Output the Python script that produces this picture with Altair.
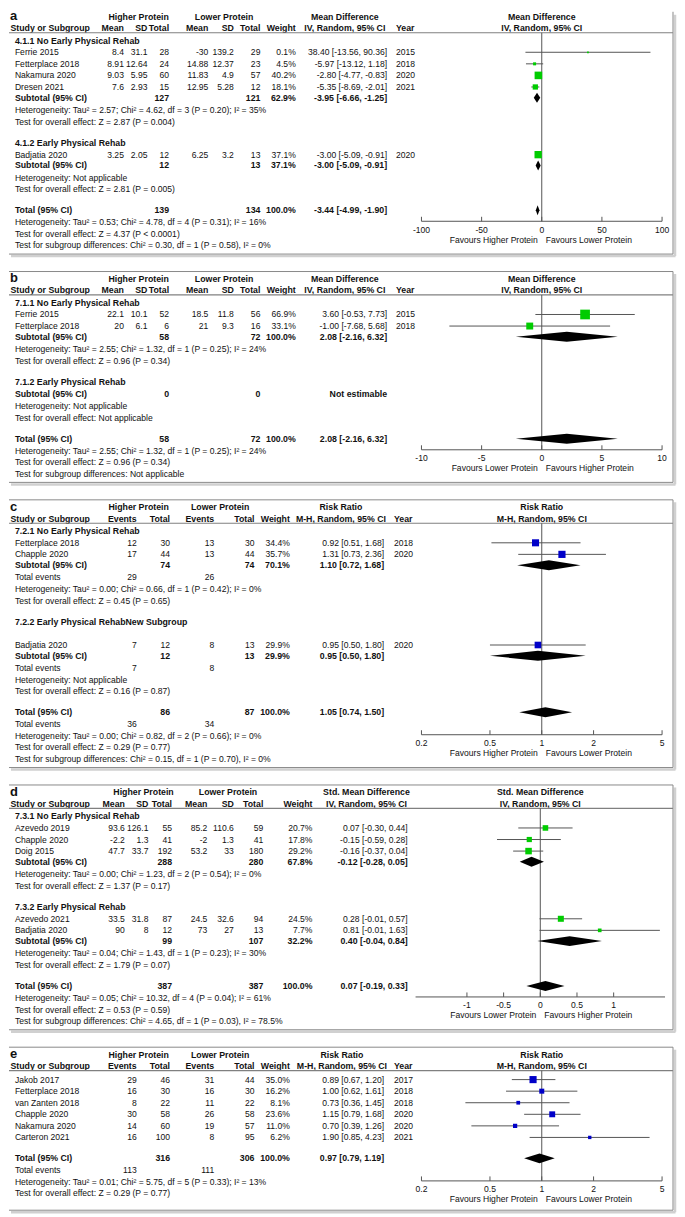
import altair as alt
import pandas as pd

FONT = "Liberation Sans"
INK = "#111111"
W = 669
FS, FSB, FSL = 8.6, 8.8, 13


def X(r):
    # reference layout x (px) -> chart x (px)
    return round((r - 3.0) * 0.985, 2)


# ---------------- panel a ----------------
A_groups = ["4.1.1 No Early Physical Rehab", "4.1.2 Early Physical Rehab"]
A_studies = ["Ferrie 2015", "Fetterplace 2018", "Nakamura 2020", "Dresen 2021", "Badjatia 2020"]
A_group_of = [0, 0, 0, 0, 1]
A_hp_mean = ["8.4", "8.91", "9.03", "7.6", "3.25"]
A_hp_sd = ["31.1", "12.64", "5.95", "2.93", "2.05"]
A_hp_total = [28, 24, 60, 15, 12]
A_lp_mean = ["-30", "14.88", "11.83", "12.95", "6.25"]
A_lp_sd = ["139.2", "12.37", "4.9", "5.28", "3.2"]
A_lp_total = [29, 23, 57, 12, 13]
A_weight = [0.1, 4.5, 40.2, 18.1, 37.1]
A_est = [38.40, -5.97, -2.80, -5.35, -3.00]
A_lo = [-13.56, -13.12, -4.77, -8.69, -5.09]
A_hi = [90.36, 1.18, -0.83, -2.01, -0.91]
A_year = [2015, 2018, 2020, 2021, 2020]
A_sub_n1 = [127, 12]
A_sub_n2 = [121, 13]
A_sub_w = [62.9, 37.1]
A_sub_est = [-3.95, -3.00]
A_sub_lo = [-6.66, -5.09]
A_sub_hi = [-1.25, -0.91]
A_sub_het = ["Heterogeneity: Tau² = 2.57; Chi² = 4.62, df = 3 (P = 0.20); I² = 35%",
             "Heterogeneity: Not applicable"]
A_sub_test = ["Test for overall effect: Z = 2.87 (P = 0.004)",
              "Test for overall effect: Z = 2.81 (P = 0.005)"]
A_tot_n = [139, 134]
A_tot_ci = [-3.44, -4.99, -1.90]
A_tot_notes = ["Heterogeneity: Tau² = 0.53; Chi² = 4.78, df = 4 (P = 0.31); I² = 16%",
               "Test for overall effect: Z = 4.37 (P < 0.0001)",
               "Test for subgroup differences: Chi² = 0.30, df = 1 (P = 0.58), I² = 0%"]
A_ticks = [-100, -50, 0, 50, 100]
A_tick_labels = ["-100", "-50", "0", "50", "100"]

# ---------------- panel b ----------------
B_groups = ["7.1.1 No Early Physical Rehab", "7.1.2 Early Physical Rehab"]
B_studies = ["Ferrie 2015", "Fetterplace 2018"]
B_hp_mean = ["22.1", "20"]
B_hp_sd = ["10.1", "6.1"]
B_hp_total = [52, 6]
B_lp_mean = ["18.5", "21"]
B_lp_sd = ["11.8", "9.3"]
B_lp_total = [56, 16]
B_weight = [66.9, 33.1]
B_est = [3.60, -1.00]
B_lo = [-0.53, -7.68]
B_hi = [7.73, 5.68]
B_year = [2015, 2018]
B_sub_n1 = [58, 0]
B_sub_n2 = [72, 0]
B_sub_w = [100.0, None]
B_sub_est = [2.08, None]
B_sub_lo = [-2.16, None]
B_sub_hi = [6.32, None]
B_sub_het = ["Heterogeneity: Tau² = 2.55; Chi² = 1.32, df = 1 (P = 0.25); I² = 24%",
             "Heterogeneity: Not applicable"]
B_sub_test = ["Test for overall effect: Z = 0.96 (P = 0.34)",
              "Test for overall effect: Not applicable"]
B_tot_n = [58, 72]
B_tot_ci = [2.08, -2.16, 6.32]
B_tot_notes = ["Heterogeneity: Tau² = 2.55; Chi² = 1.32, df = 1 (P = 0.25); I² = 24%",
               "Test for overall effect: Z = 0.96 (P = 0.34)",
               "Test for subgroup differences: Not applicable"]
B_ticks = [-10, -5, 0, 5, 10]
B_tick_labels = ["-10", "-5", "0", "5", "10"]

# ---------------- panel c ----------------
C_groups = ["7.2.1 No Early Physical Rehab", "7.2.2 Early Physical RehabNew Subgroup"]
C_studies = ["Fetterplace 2018", "Chapple 2020", "Badjatia 2020"]
C_group_of = [0, 0, 1]
C_hp_events = [12, 17, 7]
C_hp_total = [30, 44, 12]
C_lp_events = [13, 13, 8]
C_lp_total = [30, 44, 13]
C_weight = [34.4, 35.7, 29.9]
C_est = [0.92, 1.31, 0.95]
C_lo = [0.51, 0.73, 0.50]
C_hi = [1.68, 2.36, 1.80]
C_year = [2018, 2020, 2020]
C_sub_n1 = [74, 12]
C_sub_n2 = [74, 13]
C_sub_w = [70.1, 29.9]
C_sub_est = [1.10, 0.95]
C_sub_lo = [0.72, 0.50]
C_sub_hi = [1.68, 1.80]
C_sub_ev1 = [29, 7]
C_sub_ev2 = [26, 8]
C_sub_het = ["Heterogeneity: Tau² = 0.00; Chi² = 0.66, df = 1 (P = 0.42); I² = 0%",
             "Heterogeneity: Not applicable"]
C_sub_test = ["Test for overall effect: Z = 0.45 (P = 0.65)",
              "Test for overall effect: Z = 0.16 (P = 0.87)"]
C_tot_n = [86, 87]
C_tot_ci = [1.05, 0.74, 1.50]
C_tot_ev = [36, 34]
C_tot_notes = ["Heterogeneity: Tau² = 0.00; Chi² = 0.82, df = 2 (P = 0.66); I² = 0%",
               "Test for overall effect: Z = 0.29 (P = 0.77)",
               "Test for subgroup differences: Chi² = 0.15, df = 1 (P = 0.70), I² = 0%"]
RR_ticks = [0.2, 0.5, 1, 2, 5]
RR_tick_labels = ["0.2", "0.5", "1", "2", "5"]

# ---------------- panel d ----------------
D_groups = ["7.3.1 No Early Physical Rehab", "7.3.2 Early Physical Rehab"]
D_studies = ["Azevedo 2019", "Chapple 2020", "Doig 2015", "Azevedo 2021", "Badjatia 2020"]
D_group_of = [0, 0, 0, 1, 1]
D_hp_mean = ["93.6", "-2.2", "47.7", "33.5", "90"]
D_hp_sd = ["126.1", "1.3", "33.7", "31.8", "8"]
D_hp_total = [55, 41, 192, 87, 12]
D_lp_mean = ["85.2", "-2", "53.2", "24.5", "73"]
D_lp_sd = ["110.6", "1.3", "33", "32.6", "27"]
D_lp_total = [59, 41, 180, 94, 13]
D_weight = [20.7, 17.8, 29.2, 24.5, 7.7]
D_est = [0.07, -0.15, -0.16, 0.28, 0.81]
D_lo = [-0.30, -0.59, -0.37, -0.01, -0.01]
D_hi = [0.44, 0.28, 0.04, 0.57, 1.63]
D_sub_n1 = [288, 99]
D_sub_n2 = [280, 107]
D_sub_w = [67.8, 32.2]
D_sub_est = [-0.12, 0.40]
D_sub_lo = [-0.28, -0.04]
D_sub_hi = [0.05, 0.84]
D_sub_het = ["Heterogeneity: Tau² = 0.00; Chi² = 1.23, df = 2 (P = 0.54); I² = 0%",
             "Heterogeneity: Tau² = 0.04; Chi² = 1.43, df = 1 (P = 0.23); I² = 30%"]
D_sub_test = ["Test for overall effect: Z = 1.37 (P = 0.17)",
              "Test for overall effect: Z = 1.79 (P = 0.07)"]
D_tot_n = [387, 387]
D_tot_ci = [0.07, -0.19, 0.33]
D_tot_notes = ["Heterogeneity: Tau² = 0.05; Chi² = 10.32, df = 4 (P = 0.04); I² = 61%",
               "Test for overall effect: Z = 0.53 (P = 0.59)",
               "Test for subgroup differences: Chi² = 4.65, df = 1 (P = 0.03), I² = 78.5%"]
D_ticks = [-1, -0.5, 0, 0.5, 1]
D_tick_labels = ["-1", "-0.5", "0", "0.5", "1"]

# ---------------- panel e ----------------
E_studies = ["Jakob 2017", "Fetterplace 2018", "van Zanten 2018", "Chapple 2020",
             "Nakamura 2020", "Carteron 2021"]
E_hp_events = [29, 16, 8, 30, 14, 16]
E_hp_total = [46, 30, 22, 58, 60, 100]
E_lp_events = [31, 16, 11, 26, 19, 8]
E_lp_total = [44, 30, 22, 58, 57, 95]
E_weight = [35.0, 16.2, 8.1, 23.6, 11.0, 6.2]
E_est = [0.89, 1.00, 0.73, 1.15, 0.70, 1.90]
E_lo = [0.67, 0.62, 0.36, 0.79, 0.39, 0.85]
E_hi = [1.20, 1.61, 1.45, 1.68, 1.26, 4.23]
E_year = [2017, 2018, 2018, 2020, 2020, 2021]
E_tot_n = [316, 306]
E_tot_ci = [0.97, 0.79, 1.19]
E_tot_ev = [113, 111]
E_tot_notes = ["Heterogeneity: Tau² = 0.01; Chi² = 5.75, df = 5 (P = 0.33); I² = 13%",
               "Test for overall effect: Z = 0.29 (P = 0.77)"]

FAV_HI = "Favours Higher Protein"
FAV_LO = "Favours Lower Protein"

CONT_HEADS = ["Mean", "SD", "Total", "Mean", "SD", "Total"]
DICH_HEADS = ["Events", "Total", "Events", "Total"]

# column layout (reference px)
CONT_COLS = [120, 144, 166, 206, 232, 259]
D_COLS = [121, 145, 169, 205, 232, 262]
DICH_COLS = [133, 167, 212, 253]


def sub_spec(n1, n2, w, est, lo, hi, het, test, ev1=None, ev2=None):
    return [dict(n1=n1[k], n2=n2[k], w=w[k], est=est[k], lo=lo[k], hi=hi[k],
                 het=het[k], test=test[k],
                 ev=None if ev1 is None else (ev1[k], ev2[k])) for k in range(len(n1))]


def rows_of(group_of, g):
    return [i for i, v in enumerate(group_of) if v == g]


PANELS = [
    dict(letter="a", top=5, names=A_studies, year=A_year,
         vals=[A_hp_mean, A_hp_sd, A_hp_total, A_lp_mean, A_lp_sd, A_lp_total],
         heads=CONT_HEADS, cols=CONT_COLS, ncol=(2, 5), evcol=None,
         w_x=295, ci_x=388, yr_x=397, hp_c=135, lp_c=222, eff_c=345, fc=545.5,
         eff1="Mean Difference", eff2="IV, Random, 95% CI",
         weight=A_weight, est=A_est, lo=A_lo, hi=A_hi,
         groups=[dict(head=A_groups[0], rows=rows_of(A_group_of, 0), sub=0),
                 dict(head=A_groups[1], rows=rows_of(A_group_of, 1), sub=1)],
         subs=sub_spec(A_sub_n1, A_sub_n2, A_sub_w, A_sub_est, A_sub_lo, A_sub_hi, A_sub_het, A_sub_test),
         tot_n=A_tot_n, tot_ci=A_tot_ci, tot_ev=None, notes=A_tot_notes,
         stype="linear", domain=[-100, 100], rng=(423, 668), null=0,
         ticks=A_ticks, tlabels=A_tick_labels, favl=FAV_HI, favr=FAV_LO,
         color="#00cc00", topline=False),
    dict(letter="b", top=8, names=B_studies, year=B_year,
         vals=[B_hp_mean, B_hp_sd, B_hp_total, B_lp_mean, B_lp_sd, B_lp_total],
         heads=CONT_HEADS, cols=CONT_COLS, ncol=(2, 5), evcol=None,
         w_x=295, ci_x=388, yr_x=397, hp_c=135, lp_c=222, eff_c=345, fc=545.5,
         eff1="Mean Difference", eff2="IV, Random, 95% CI",
         weight=B_weight, est=B_est, lo=B_lo, hi=B_hi,
         groups=[dict(head=B_groups[0], rows=[0, 1], sub=0),
                 dict(head=B_groups[1], rows=[], sub=1)],
         subs=sub_spec(B_sub_n1, B_sub_n2, B_sub_w, B_sub_est, B_sub_lo, B_sub_hi, B_sub_het, B_sub_test),
         tot_n=B_tot_n, tot_ci=B_tot_ci, tot_ev=None, notes=B_tot_notes,
         stype="linear", domain=[-10, 10], rng=(423, 668), null=0,
         ticks=B_ticks, tlabels=B_tick_labels, favl=FAV_LO, favr=FAV_HI,
         color="#00cc00", topline=True),
    dict(letter="c", top=8, names=C_studies, year=C_year,
         vals=[C_hp_events, C_hp_total, C_lp_events, C_lp_total],
         heads=DICH_HEADS, cols=DICH_COLS, ncol=(1, 3), evcol=(0, 2),
         w_x=289, ci_x=385, yr_x=395, hp_c=135, lp_c=218, eff_c=341, fc=545.5,
         eff1="Risk Ratio", eff2="M-H, Random, 95% CI",
         weight=C_weight, est=C_est, lo=C_lo, hi=C_hi,
         groups=[dict(head=C_groups[0], rows=rows_of(C_group_of, 0), sub=0),
                 dict(head=C_groups[1], rows=rows_of(C_group_of, 1), sub=1, gap=23)],
         subs=sub_spec(C_sub_n1, C_sub_n2, C_sub_w, C_sub_est, C_sub_lo, C_sub_hi, C_sub_het, C_sub_test,
                       C_sub_ev1, C_sub_ev2),
         tot_n=C_tot_n, tot_ci=C_tot_ci, tot_ev=C_tot_ev, notes=C_tot_notes,
         stype="log", domain=[0.2, 5], rng=(423, 668), null=1,
         ticks=RR_ticks, tlabels=RR_tick_labels, favl=FAV_HI, favr=FAV_LO,
         color="#0000c8", topline=True),
    dict(letter="d", top=8, names=D_studies, year=None,
         vals=[D_hp_mean, D_hp_sd, D_hp_total, D_lp_mean, D_lp_sd, D_lp_total],
         heads=CONT_HEADS, cols=D_COLS, ncol=(2, 5), evcol=None,
         w_x=312, ci_x=409, yr_x=None, hp_c=140, lp_c=226, eff_c=367, fc=544,
         eff1="Std. Mean Difference", eff2="IV, Random, 95% CI",
         weight=D_weight, est=D_est, lo=D_lo, hi=D_hi,
         groups=[dict(head=D_groups[0], rows=rows_of(D_group_of, 0), sub=0),
                 dict(head=D_groups[1], rows=rows_of(D_group_of, 1), sub=1)],
         subs=sub_spec(D_sub_n1, D_sub_n2, D_sub_w, D_sub_est, D_sub_lo, D_sub_hi, D_sub_het, D_sub_test),
         tot_n=D_tot_n, tot_ci=D_tot_ci, tot_ev=None, notes=D_tot_notes,
         stype="linear", domain=[-1.7, 1.7], rng=(417, 671), null=0,
         ticks=D_ticks, tlabels=D_tick_labels, favl=FAV_LO, favr=FAV_HI,
         color="#00cc00", topline=True),
    dict(letter="e", top=8, names=E_studies, year=E_year,
         vals=[E_hp_events, E_hp_total, E_lp_events, E_lp_total],
         heads=DICH_HEADS, cols=DICH_COLS, ncol=(1, 3), evcol=(0, 2),
         w_x=289, ci_x=385, yr_x=395, hp_c=135, lp_c=218, eff_c=342, fc=545.5,
         eff1="Risk Ratio", eff2="M-H, Random, 95% CI",
         weight=E_weight, est=E_est, lo=E_lo, hi=E_hi,
         groups=[dict(head=None, rows=list(range(len(E_studies))), sub=None)],
         subs=[],
         tot_n=E_tot_n, tot_ci=E_tot_ci, tot_ev=E_tot_ev, notes=E_tot_notes,
         stype="log", domain=[0.2, 5], rng=(423, 668), null=1,
         ticks=RR_ticks, tlabels=RR_tick_labels, favl=FAV_HI, favr=FAV_LO,
         color="#0000c8", topline=True),
]

STY = {
    "left_n": dict(align="left", fontWeight="normal", fontSize=FS),
    "left_b": dict(align="left", fontWeight="bold", fontSize=FSB),
    "right_n": dict(align="right", fontWeight="normal", fontSize=FS),
    "right_b": dict(align="right", fontWeight="bold", fontSize=FSB),
    "center_b": dict(align="center", fontWeight="bold", fontSize=FSB),
    "left_L": dict(align="left", fontWeight="bold", fontSize=FSL),
}


def ci_text(e, l, h):
    return f"{e:.2f} [{l:.2f}, {h:.2f}]"


def build(p):
    cells, sq, dia = [], [], []

    def cell(y, x, t, k):
        cells.append({"y": round(y, 2), "x": X(x), "t": str(t), "k": k})

    def diamond(y, e, l, h):
        i = len(dia) // 3
        for xv, a, b in ((l, y, y), (e, y - 5, y + 5), (h, y, y)):
            dia.append({"id": i, "x": xv, "y": a, "y2": b})

    top = p["top"]
    cell(top - 0.5, 4, p["letter"], "left_L")
    cell(top, p["hp_c"], "Higher Protein", "center_b")
    cell(top, p["lp_c"], "Lower Protein", "center_b")
    cell(top, p["eff_c"], p["eff1"], "center_b")
    cell(top, p["fc"], p["eff1"], "center_b")
    h2 = top + 11.5
    cell(h2, 4.5, "Study or Subgroup", "left_b")
    for lab, cx in zip(p["heads"], p["cols"]):
        cell(h2, cx, lab, "right_b")
    cell(h2, p["w_x"], "Weight", "right_b")
    cell(h2, p["eff_c"], p["eff2"], "center_b")
    if p["yr_x"]:
        cell(h2, p["yr_x"], "Year", "left_b")
    cell(h2, p["fc"], p["eff2"], "center_b")
    rule_y = top + 16
    y = rule_y
    LX = 9
    c1, c2 = p["cols"][p["ncol"][0]], p["cols"][p["ncol"][1]]
    for gi, g in enumerate(p["groups"]):
        if g["head"] is not None:
            y += 8 if gi == 0 else 21.5
            cell(y, LX, g["head"], "left_b")
            gap = g.get("gap", 11.6)
        else:
            gap = 9
        for j, i in enumerate(g["rows"]):
            y += gap if j == 0 else 11.6
            cell(y, LX, p["names"][i], "left_n")
            for arr, cx in zip(p["vals"], p["cols"]):
                cell(y, cx, arr[i], "right_n")
            cell(y, p["w_x"], f"{p['weight'][i]:.1f}%", "right_n")
            cell(y, p["ci_x"], ci_text(p["est"][i], p["lo"][i], p["hi"][i]), "right_n")
            if p["yr_x"]:
                cell(y, p["yr_x"], p["year"][i], "left_n")
            sq.append({"y": y, "est": p["est"][i], "lo": p["lo"][i], "hi": p["hi"][i],
                       "w": p["weight"][i]})
        if g["sub"] is not None:
            s = p["subs"][g["sub"]]
            y += 10.8 if g["rows"] else 11.8
            cell(y, LX, "Subtotal (95% CI)", "left_b")
            cell(y, c1, s["n1"], "right_b")
            cell(y, c2, s["n2"], "right_b")
            if s["w"] is not None:
                cell(y, p["w_x"], f"{s['w']:.1f}%", "right_b")
            if s["est"] is not None:
                cell(y, p["ci_x"], ci_text(s["est"], s["lo"], s["hi"]), "right_b")
                diamond(y, s["est"], s["lo"], s["hi"])
            else:
                cell(y, p["ci_x"], "Not estimable", "right_b")
            if s["ev"] is not None:
                y += 12.4
                cell(y, LX, "Total events", "left_n")
                cell(y, p["cols"][p["evcol"][0]], s["ev"][0], "right_n")
                cell(y, p["cols"][p["evcol"][1]], s["ev"][1], "right_n")
                y += 11.6
            else:
                y += 12.4
            cell(y, LX, s["het"], "left_n")
            y += 11.6
            cell(y, LX, s["test"], "left_n")
    y += 21
    cell(y, LX, "Total (95% CI)", "left_b")
    cell(y, c1, p["tot_n"][0], "right_b")
    cell(y, c2, p["tot_n"][1], "right_b")
    cell(y, p["w_x"], "100.0%", "right_b")
    cell(y, p["ci_x"], ci_text(*p["tot_ci"]), "right_b")
    diamond(y, *p["tot_ci"])
    if p["tot_ev"] is not None:
        y += 12
        cell(y, LX, "Total events", "left_n")
        cell(y, p["cols"][p["evcol"][0]], p["tot_ev"][0], "right_n")
        cell(y, p["cols"][p["evcol"][1]], p["tot_ev"][1], "right_n")
        y += 11.6
    else:
        y += 12
    axis_y = y - 1
    for k, note in enumerate(p["notes"]):
        if k:
            y += 11.6
        cell(y, LX, note, "left_n")
    H = round(max(y + 11.5, axis_y + 18.5 + 14))
    return pd.DataFrame(cells), pd.DataFrame(sq), pd.DataFrame(dia), rule_y, axis_y, H


ONE = pd.DataFrame({"k": [0]})


def make_panel(p):
    cdf, sdf, ddf, rule_y, axis_y, H = build(p)
    TY = alt.Scale(domain=[0, H], reverse=True, nice=False, zero=False)
    TX = alt.Scale(domain=[0, W], nice=False, zero=False)
    FX = alt.Scale(type=p["stype"], domain=p["domain"],
                   range=[X(p["rng"][0]), X(p["rng"][1])], nice=False)

    # ---- table group ----
    tl = []
    for k, st in STY.items():
        sub = cdf[cdf.k == k]
        if len(sub) == 0:
            continue
        tl.append(alt.Chart(sub).mark_text(font=FONT, baseline="middle", color=INK, **st).encode(
            x=alt.X("x:Q", scale=TX, axis=None), y=alt.Y("y:Q", scale=TY, axis=None), text="t:N"))
    tl.append(alt.Chart(ONE).mark_rule(color="#808080", strokeWidth=1.2).encode(
        x=alt.value(0), x2=alt.value(W - 3), y=alt.value(rule_y)))
    # box border with shadow
    tl.append(alt.Chart(ONE).mark_rule(color="#d0d0d0", strokeWidth=2.5).encode(
        x=alt.value(2), x2=alt.value(W - 0.5), y=alt.value(H - 1)))
    tl.append(alt.Chart(ONE).mark_rule(color="#d0d0d0", strokeWidth=2.5).encode(
        x=alt.value(W - 1), y=alt.value(3), y2=alt.value(H - 1)))
    tl.append(alt.Chart(ONE).mark_rule(color="#8a8a8a", strokeWidth=1).encode(
        x=alt.value(0), x2=alt.value(W - 3), y=alt.value(H - 3)))
    tl.append(alt.Chart(ONE).mark_rule(color="#8a8a8a", strokeWidth=1).encode(
        x=alt.value(W - 3), y=alt.value(0.5 if p["topline"] else 0), y2=alt.value(H - 3)))
    if p["topline"]:
        tl.append(alt.Chart(ONE).mark_rule(color="#8a8a8a", strokeWidth=1).encode(
            x=alt.value(0), x2=alt.value(W - 3), y=alt.value(0.5)))
    table = alt.layer(*tl)

    # ---- forest group ----
    fl = []
    nulldf = pd.DataFrame({"v": [p["null"]]})
    fl.append(alt.Chart(nulldf).mark_rule(color="#555555", strokeWidth=1).encode(
        x=alt.X("v:Q", scale=FX, axis=None), y=alt.value(rule_y), y2=alt.value(axis_y)))
    if len(sdf):
        fl.append(alt.Chart(sdf).mark_rule(color="#555555", strokeWidth=1).encode(
            x=alt.X("lo:Q", scale=FX, axis=None), x2="hi:Q",
            y=alt.Y("y:Q", scale=TY, axis=None)))
        fl.append(alt.Chart(sdf).mark_square(color=p["color"], opacity=1, filled=True).encode(
            x=alt.X("est:Q", scale=FX, axis=None),
            y=alt.Y("y:Q", scale=TY, axis=None),
            size=alt.Size("w:Q", scale=alt.Scale(domain=[0, 100], range=[3, 140]), legend=None)))
    fl.append(alt.Chart(ddf).mark_area(color="black", orient="vertical", opacity=1).encode(
        x=alt.X("x:Q", scale=FX, axis=None),
        y=alt.Y("y:Q", scale=TY, axis=None, stack=None), y2="y2:Q", detail="id:N"))
    dom = pd.DataFrame({"a": [p["domain"][0]], "b": [p["domain"][1]]})
    fl.append(alt.Chart(dom).mark_rule(color="#555555", strokeWidth=1).encode(
        x=alt.X("a:Q", scale=FX, axis=None), x2="b:Q", y=alt.value(axis_y)))
    tdf = pd.DataFrame({"v": p["ticks"], "lab": p["tlabels"]})
    fl.append(alt.Chart(tdf).mark_rule(color="#555555", strokeWidth=1).encode(
        x=alt.X("v:Q", scale=FX, axis=None), y=alt.value(axis_y - 4.5), y2=alt.value(axis_y)))
    fl.append(alt.Chart(tdf).mark_text(font=FONT, fontSize=FS, color=INK, baseline="middle").encode(
        x=alt.X("v:Q", scale=FX, axis=None), y=alt.value(axis_y + 8.5), text="lab:N"))
    favdf = pd.DataFrame({"v": [p["null"]], "l": [p["favl"]], "r": [p["favr"]]})
    fl.append(alt.Chart(favdf).mark_text(font=FONT, fontSize=FS, color=INK, baseline="middle",
                                         align="right", dx=-4).encode(
        x=alt.X("v:Q", scale=FX, axis=None), y=alt.value(axis_y + 18.5), text="l:N"))
    fl.append(alt.Chart(favdf).mark_text(font=FONT, fontSize=FS, color=INK, baseline="middle",
                                         align="left", dx=4).encode(
        x=alt.X("v:Q", scale=FX, axis=None), y=alt.value(axis_y + 18.5), text="r:N"))
    forest = alt.layer(*fl)

    return alt.layer(table, forest).resolve_scale(x="independent").properties(width=W, height=H)


panels = [make_panel(p) for p in PANELS]
chart = alt.vconcat(*panels, spacing=13).properties(padding=0).configure_view(stroke=None)
chart.save("out.html", embed_options={"renderer": "svg", "actions": False})
